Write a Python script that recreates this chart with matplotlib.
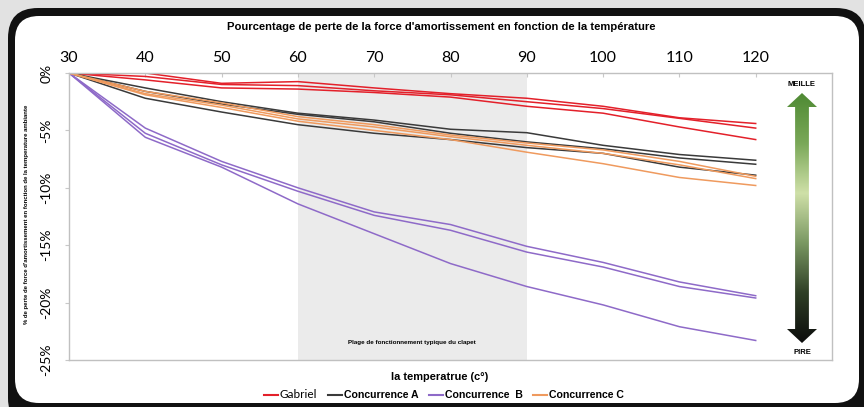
import numpy as np
import matplotlib.pyplot as plt
from matplotlib.patches import FancyBboxPatch, Polygon
from matplotlib.colors import LinearSegmentedColormap
from matplotlib.ticker import FuncFormatter

temps = [30, 40, 50, 60, 70, 80, 90, 100, 110, 120]

# three samples per brand, % loss vs temperature
gabriel = [
    [0, 0.0, -0.9, -0.75, -1.3, -1.8, -2.2, -2.9, -3.9, -4.4],
    [0, -0.3, -1.0, -1.1, -1.55, -1.9, -2.5, -3.1, -3.95, -4.8],
    [0, -0.6, -1.3, -1.4, -1.7, -2.1, -2.9, -3.5, -4.7, -5.8],
]
conc_a = [
    [0, -1.3, -2.5, -3.5, -4.1, -4.9, -5.2, -6.3, -7.1, -7.6],
    [0, -1.6, -2.7, -3.6, -4.25, -5.25, -6.0, -6.6, -7.4, -7.95],
    [0, -2.2, -3.4, -4.5, -5.25, -5.8, -6.5, -7.0, -8.2, -8.9],
]
conc_b = [
    [0, -4.8, -7.7, -10.0, -12.1, -13.2, -15.1, -16.5, -18.2, -19.4],
    [0, -5.25, -8.0, -10.3, -12.4, -13.7, -15.6, -16.9, -18.6, -19.6],
    [0, -5.6, -8.2, -11.4, -14.0, -16.6, -18.6, -20.2, -22.1, -23.3],
]
conc_c = [
    [0, -1.6, -2.6, -3.8, -4.5, -5.4, -6.1, -6.7, -7.7, -9.0],
    [0, -1.8, -2.8, -4.0, -4.7, -5.55, -6.3, -7.0, -8.0, -9.2],
    [0, -1.9, -3.0, -4.2, -5.0, -5.8, -6.9, -7.9, -9.1, -9.8],
]
names = ["Gabriel", "Concurrence A", "Concurrence  B", "Concurrence C"]
colors = ["#e3202a", "#3a3a3a", "#8e6ac8", "#ef9a5e"]
zone = (60, 90)

W, H = 864, 407
fig = plt.figure(figsize=(W / 100, H / 100), dpi=100)
fig.patch.set_facecolor("#e2e2e2")

# rounded black frame with white panel, drawn in pixel units
bg = fig.add_axes([0, 0, 1, 1])
bg.set_xlim(0, W)
bg.set_ylim(H, 0)
bg.axis("off")
bg.add_patch(FancyBboxPatch((8, 8), 858, 420, boxstyle="round,pad=0,rounding_size=30",
                            fc="#111111", ec="none"))
bg.add_patch(FancyBboxPatch((15, 16), 844, 387, boxstyle="round,pad=0,rounding_size=24",
                            fc="white", ec="none"))

ax = fig.add_axes([69 / W, 1 - 360 / H, (832 - 69) / W, (360 - 73) / H])
ax.set_facecolor("none")
ax.axvspan(zone[0], zone[1], color="#ebebeb", lw=0, zorder=0)
for group, col, name in zip([gabriel, conc_a, conc_b, conc_c], colors, names):
    for i, vals in enumerate(group):
        ax.plot(temps, vals, color=col, lw=1.1, label=name if i == 0 else None, zorder=2)

ax.set_xlim(30, 130)
ax.set_ylim(-25, 0)
ax.xaxis.tick_top()
ax.set_xticks(temps)
ax.set_yticks([0, -5, -10, -15, -20, -25])
ax.yaxis.set_major_formatter(FuncFormatter(lambda v, p: f"{v:.0f}%"))
ax.tick_params(axis="x", direction="in", length=3, color="#c8c8c8", labelsize=11.5, pad=6)
ax.tick_params(axis="y", direction="out", length=3, color="#c8c8c8", labelsize=10, pad=9)
for lab in ax.get_xticklabels():
    lab.set_fontfamily("Lato")
for lab in ax.get_yticklabels():
    lab.set_fontfamily("Lato")
    lab.set_rotation(90)
    lab.set_va("center")
for s in ax.spines.values():
    s.set_color("#c0c0c0")
    s.set_linewidth(1)

ax.text(sum(zone) / 2, -23.5, "Plage de fonctionnement typique du clapet",
        ha="center", va="center", fontsize=4.5, fontweight="bold",
        family="Liberation Sans", zorder=3)

fig.text(441 / W, 1 - 27 / H,
         "Pourcentage de perte de la force d'amortissement en fonction de la température",
         ha="center", va="center", fontsize=8.1, fontweight="bold", family="Liberation Sans")
fig.text(440 / W, 1 - 377 / H, "la temperatrue (c°)", ha="center", va="center",
         fontsize=7.9, fontweight="bold", family="Liberation Sans")
fig.text(27 / W, 1 - 214 / H,
         "% de perte de force d'amortissement en fonction de la temperature ambiante",
         ha="center", va="center", rotation=90, fontsize=4.3, fontweight="bold",
         family="Liberation Sans")

leg = fig.legend(loc="center", bbox_to_anchor=(444 / W, 1 - 395 / H), ncol=4, frameon=False,
                 handlelength=1.3, handletextpad=0.2, columnspacing=1.0,
                 prop={"family": "Liberation Sans", "size": 7.6, "weight": "bold"})
for ln in leg.get_lines():
    ln.set_linewidth(1.5)
leg.get_texts()[0].set_fontweight("normal")
leg.get_texts()[0].set_fontfamily("Lato")
leg.get_texts()[0].set_fontsize(8.5)

# gradient double arrow "meilleur / pire"
aax = fig.add_axes([787 / W, 1 - 343 / H, 30 / W, 250 / H])
aax.axis("off")
aax.set_xlim(0, 1)
aax.set_ylim(0, 1)
cmap = LinearSegmentedColormap.from_list("arrow", [
    (0.0, "#0c0c0c"), (0.2, "#2f3f26"), (0.4, "#7a9862"),
    (0.6, "#cfe0a8"), (0.8, "#7aa858"), (1.0, "#4f8a34")])
grad = np.linspace(0, 1, 256).reshape(-1, 1)
im = aax.imshow(grad, extent=[0, 1, 0, 1], origin="lower", aspect="auto", cmap=cmap)
hl = 0.056
sw = 0.23
shape = Polygon([(0.5, 1), (0, 1 - hl), (0.5 - sw, 1 - hl), (0.5 - sw, hl), (0, hl),
                 (0.5, 0), (1, hl), (0.5 + sw, hl), (0.5 + sw, 1 - hl), (1, 1 - hl)],
                closed=True, fc="none", ec="none", transform=aax.transAxes)
aax.add_patch(shape)
im.set_clip_path(shape)
fig.text(802 / W, 1 - 84 / H, "MEILLE", ha="center", va="center", fontsize=5.5,
         fontweight="bold", family="Liberation Sans")
fig.text(802 / W, 1 - 353 / H, "PIRE", ha="center", va="center", fontsize=5.5,
         fontweight="bold", family="Liberation Sans")

fig.savefig("out.png", dpi=100, facecolor=fig.get_facecolor())
